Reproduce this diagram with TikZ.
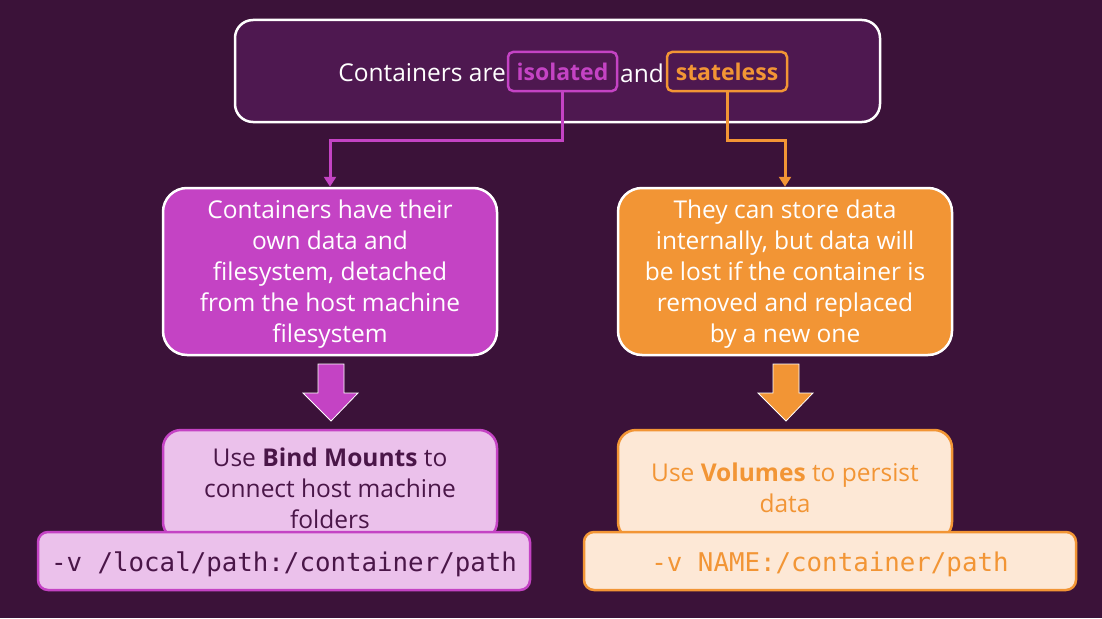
\documentclass[tikz,border=0pt]{standalone}
\usepackage{fontspec}
\setmainfont{Open Sans}
\newfontfamily\codefont{DejaVu Sans Mono}
\usetikzlibrary{arrows.meta}
\definecolor{bgc}{HTML}{3B1239}
\definecolor{topc}{HTML}{4E1850}
\definecolor{purp}{HTML}{C443C4}
\definecolor{oran}{HTML}{F29535}
\definecolor{lpink}{HTML}{EBC1EB}
\definecolor{lora}{HTML}{FDE8D6}
\definecolor{dtext}{HTML}{4A1648}
\tikzset{
  mainbox/.style={draw=white, line width=2.5pt, rounded corners=24pt, minimum width=334pt, minimum height=167pt, inner sep=0pt},
  subbox/.style={line width=2.5pt, rounded corners=18pt, minimum width=334pt, minimum height=110pt, inner sep=0pt},
  codebox/.style={line width=2.5pt, rounded corners=10pt, minimum width=492pt, minimum height=58pt, inner sep=0pt},
  codetext/.style={inner sep=0pt, font=\codefont\fontsize{25.8}{30}\selectfont},
  tag/.style={line width=2.5pt, rounded corners=5pt, minimum height=39pt, inner sep=0pt, font=\fontsize{23}{26}\selectfont\bfseries},
  conn/.style={line width=3pt, -{Triangle[width=12pt,length=10pt]}},
  blockarrow/.style={draw=white, line width=0.8pt},
  btext/.style={align=center, inner sep=0pt, font=\fontsize{24.5}{31}\selectfont},
  ttext/.style={text=white, inner sep=0pt, font=\fontsize{24.5}{28}\selectfont},
}
\begin{document}
\begin{tikzpicture}[x=1pt,y=-1pt]
\fill[bgc] (0,0) rectangle (1102,618);
\useasboundingbox (0,0) rectangle (1102,618);
% top box
\node[draw=white, fill=topc, line width=2.5pt, rounded corners=18pt, minimum width=645pt, minimum height=102pt, inner sep=0pt] (top) at (557.5,71) {};
\node[tag, draw=purp, text=purp, minimum width=109pt] (iso) at (562.5,71.5) {isolated};
\node[tag, draw=oran, text=oran, minimum width=120pt] (sta) at (727,71.5) {stateless};
\node[ttext, anchor=east] (ca) at (506,73) {Containers are};
\node[ttext] (and) at (642,73) {and};
% middle boxes
\node[mainbox, fill=purp] (left) at (330,271.5) {};
\node[btext, text=white] (leftt) at (330,274.5) {Containers have their\\own data and\\filesystem, detached\\from the host machine\\filesystem};
\node[mainbox, fill=oran] (right) at (785,271.5) {};
\node[btext, text=white] (rightt) at (785,274.5) {They can store data\\internally, but data will\\be lost if the container is\\removed and replaced\\by a new one};
% connectors
\draw[conn, purp] (iso.south) -- ++(0,48) -| (left.north);
\draw[conn, oran] (sta.south) -- ++(0,48) -| (right.north);
% block arrows
\fill[purp] (318,364) -- (344,364) -- (344,393) -- (358,393) -- (331,421) -- (303,393) -- (318,393) -- cycle;
\draw[blockarrow] (318,364) -- (344,364) -- (344,393) -- (358,393) -- (331,421) -- (303,393) -- (318,393) -- cycle;
\fill[oran] (773,364) -- (799,364) -- (799,393) -- (813,393) -- (786,421) -- (758,393) -- (773,393) -- cycle;
\draw[blockarrow] (773,364) -- (799,364) -- (799,393) -- (813,393) -- (786,421) -- (758,393) -- (773,393) -- cycle;
% bottom boxes
\node[subbox, draw=purp, fill=lpink] (bind) at (330,485) {};
\node[btext, text=dtext] (bindt) at (330,488) {Use \textbf{Bind Mounts} to\\connect host machine\\folders};
\node[subbox, draw=oran, fill=lora] (vol) at (785,485) {};
\node[btext, text=oran] (volt) at (785,488) {Use \textbf{Volumes} to persist\\data};
\node[codebox, draw=purp, fill=lpink] (bcode) at (284,561) {};
\node[codetext, text=dtext] (bcodet) at (284,564) {-v /local/path:/container/path};
\node[codebox, draw=oran, fill=lora] (vcode) at (830,561) {};
\node[codetext, text=oran] (vcodet) at (830,564) {-v NAME:/container/path};
\end{tikzpicture}
\end{document}
